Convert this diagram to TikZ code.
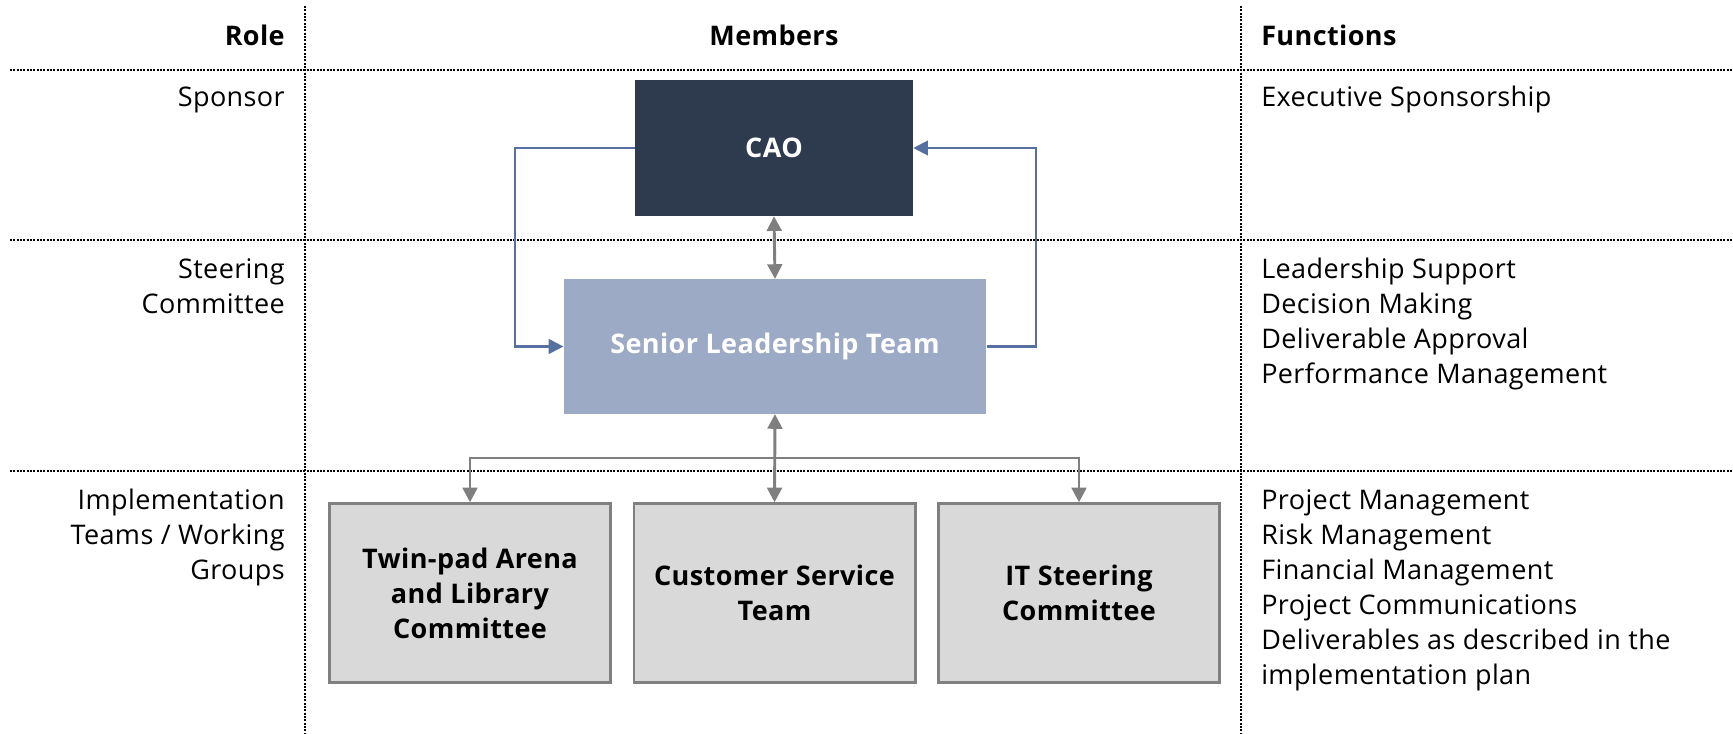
\documentclass[tikz,border=0pt]{standalone}
\usepackage{fontspec}
\setmainfont[LetterSpace=1.5]{Open Sans}
\usetikzlibrary{arrows.meta}
\definecolor{caofill}{HTML}{2E3A4E}
\definecolor{sltfill}{HTML}{9DAAC5}
\definecolor{teamfill}{HTML}{D9D9D9}
\definecolor{teamline}{HTML}{808080}
\definecolor{grayarrow}{HTML}{7F7F7F}
\definecolor{bluearrow}{HTML}{5670A0}
\begin{document}
\begin{tikzpicture}[x=0.75pt,y=-0.75pt,
  gridline/.style={line width=1.6pt, dash pattern=on 1.4pt off 1.1pt, black},
  headtext/.style={font=\fontsize{20.25}{26.25}\selectfont\bfseries, inner sep=0pt},
  bodytext/.style={font=\fontsize{20.25}{26.25}\selectfont, inner sep=0pt},
  boxtext/.style={font=\fontsize{20.25}{26.25}\selectfont\bfseries, align=center, inner sep=0pt},
  caobox/.style={boxtext, fill=caofill, text=white, minimum width=208.5pt, minimum height=102pt},
  sltbox/.style={boxtext, fill=sltfill, text=white, minimum width=317pt, minimum height=101pt},
  teambox/.style={boxtext, fill=teamfill, draw=teamline, line width=2pt, text=black, minimum width=211pt, minimum height=134pt},
  grayconn/.style={draw=grayarrow, line width=2.2pt, arrows={-Triangle[length=11pt,width=11pt]}},
  grayboth/.style={grayconn, arrows={Triangle[length=11pt,width=11pt]-Triangle[length=11pt,width=11pt]}},
  blueconn/.style={draw=bluearrow, line width=1.6pt, arrows={-Triangle[length=11pt,width=11pt]}}
]
\useasboundingbox (0,0) rectangle (1733,734);

% grid
\draw[gridline] (305,6) -- (305,734);
\draw[gridline] (1241,6) -- (1241,734);
\draw[gridline] (10,70) -- (1733,70);
\draw[gridline] (10,240) -- (1733,240);
\draw[gridline] (10,471) -- (1733,471);

% headers
\node[headtext, anchor=base east] (hrole) at (285,46) {Role};
\node[headtext, anchor=base] (hmembers) at (774,46) {Members};
\node[headtext, anchor=base west] (hfunc) at (1261,46) {Functions};

% roles (base anchor = last line)
\node[bodytext, anchor=base east] (rsponsor) at (285,107) {Sponsor};
\node[bodytext, anchor=base east, align=right] (rsteer) at (285,313) {Steering\\Committee};
\node[bodytext, anchor=base east, align=right] (rimpl) at (285,579) {Implementation\\Teams / Working\\Groups};

% functions
\node[bodytext, anchor=base west] (fsponsor) at (1261,107) {Executive Sponsorship};
\node[bodytext, anchor=base west, align=left] (fsteer) at (1261,383) {Leadership Support\\Decision Making\\Deliverable Approval\\Performance Management};
\node[bodytext, anchor=base west, align=left] (fimpl) at (1261,684) {Project Management\\Risk Management\\Financial Management\\Project Communications\\Deliverables as described in the\\implementation plan};

% boxes
\node[caobox] (cao) at (774,148) {CAO};
\node[sltbox] (slt) at (775,346.5) {Senior Leadership Team};
\node[teambox] (t1) at (470,593) {Twin-pad Arena\\and Library\\Committee};
\node[teambox] (t2) at (774.5,593) {Customer Service\\Team};
\node[teambox] (t3) at (1079,593) {IT Steering\\Committee};

\coordinate (loopL) at (515,0);
\coordinate (loopR) at (1036,0);
\coordinate (bus) at (0,458);

% connectors
\draw[blueconn] (cao.west) -- (cao.west -| loopL) |- (slt.west);
\draw[blueconn] (slt.east) -- (slt.east -| loopR) |- (cao.east);
\draw[grayboth] (cao.south) -- (slt.north);
\draw[grayboth] (slt.south) -- (t2.north);
\draw[grayconn] (slt.south |- bus) -| (t1.north);
\draw[grayconn] (slt.south |- bus) -| (t3.north);
\end{tikzpicture}
\end{document}
